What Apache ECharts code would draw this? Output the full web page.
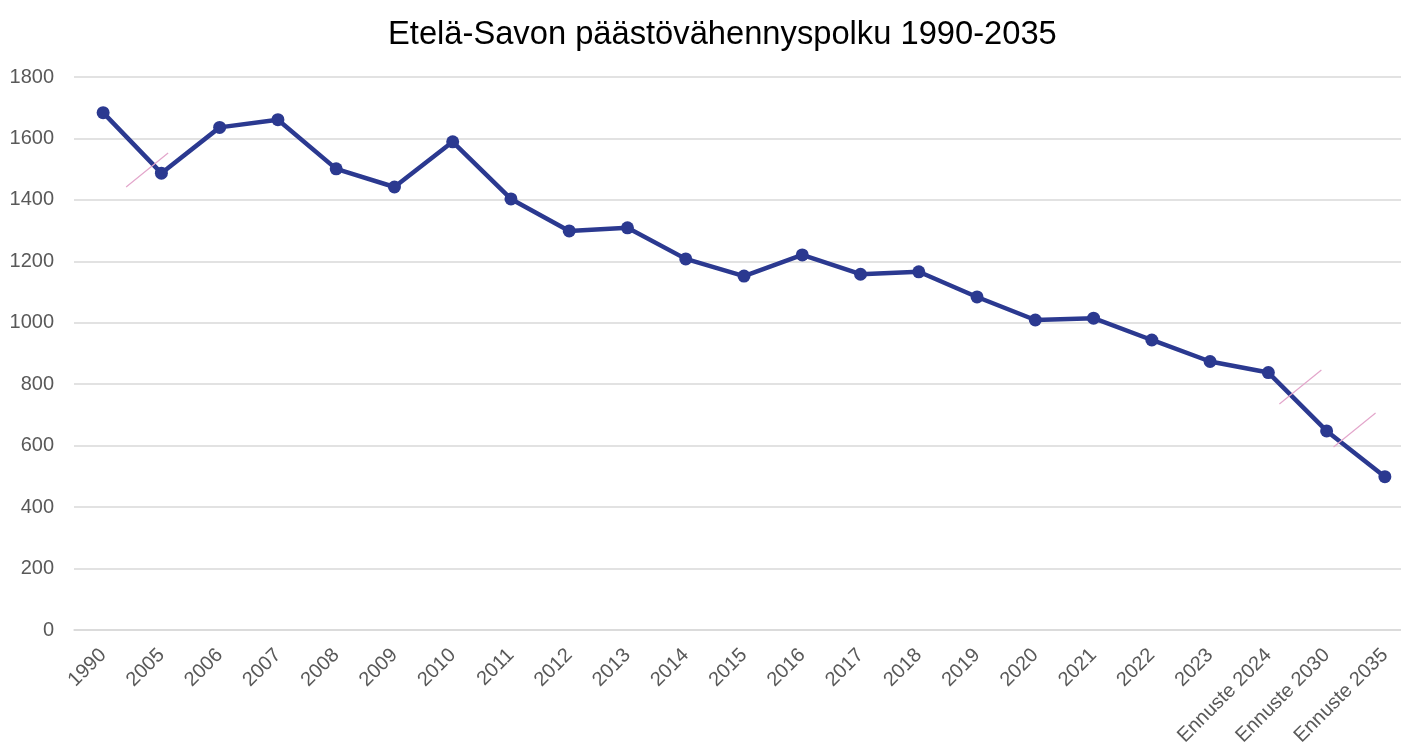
<!DOCTYPE html>
<html><head><meta charset="utf-8">
<script src="https://cdn.jsdelivr.net/npm/echarts@6/dist/echarts.min.js"></script>
<style>html,body{margin:0;padding:0;background:#fff}#c{width:1401px;height:749px}</style>
</head><body><div id="c"></div>
<script>
const categories = ['1990','2005','2006','2007','2008','2009','2010','2011','2012','2013','2014','2015','2016','2017','2018','2019','2020','2021','2022','2023','Ennuste 2024','Ennuste 2030','Ennuste 2035'];
const emissions = [1684,1487,1636,1661,1501,1442,1589,1403,1299,1309,1208,1152,1221,1158,1166,1084,1009,1015,944,874,838,648,499];
const yTicks = [0,200,400,600,800,1000,1200,1400,1600,1800];
// axis-break markers: [left category index, fraction toward next category, value]
const breakMarks = [[0,0.755,1497],[20,0.55,791],[21,0.48,651]];

const chart = echarts.init(document.getElementById('c'));
chart.setOption({
  animation:false,
  title:{text:'Etelä-Savon päästövähennyspolku 1990-2035',left:383,top:13,
    textStyle:{fontFamily:'Liberation Sans',fontSize:32.7,fontWeight:'normal',color:'#000'}},
  grid:{left:74,top:77,width:1340,height:553,containLabel:false,outerBoundsMode:'none'},
  xAxis:{type:'category',data:categories,boundaryGap:true,
    axisLine:{show:true,lineStyle:{color:'#d9d9d9',width:1.5}},axisTick:{show:false},
    axisLabel:{rotate:45,interval:0,margin:22,fontFamily:'Liberation Sans',fontSize:20,color:'#595959'}},
  yAxis:{type:'value',min:yTicks[0],max:yTicks[yTicks.length-1],interval:200,
    axisLine:{show:false},axisTick:{show:false},
    splitLine:{lineStyle:{color:'#d9d9d9',width:1.5}},
    axisLabel:{margin:20,fontFamily:'Liberation Sans',fontSize:20,color:'#595959',
      formatter:function(v){return String(v);}}},
  series:[
    {type:'line',data:emissions,symbol:'circle',symbolSize:13,
     lineStyle:{color:'#2B3990',width:4.5},itemStyle:{color:'#2B3990'},z:3},
    {type:'custom',data:breakMarks,z:4,silent:true,
     renderItem:function(params,api){
       const i=api.value(0),f=api.value(1),v=api.value(2);
       const p0=api.coord([i,v]),p1=api.coord([i+1,v]);
       const x=p0[0]+(p1[0]-p0[0])*f,y=p0[1];
       return {type:'line',shape:{x1:x-21,y1:y+17,x2:x+21,y2:y-17},
         style:{stroke:'#E3A6CB',lineWidth:1.2}};
     }}
  ]
});
</script></body></html>
